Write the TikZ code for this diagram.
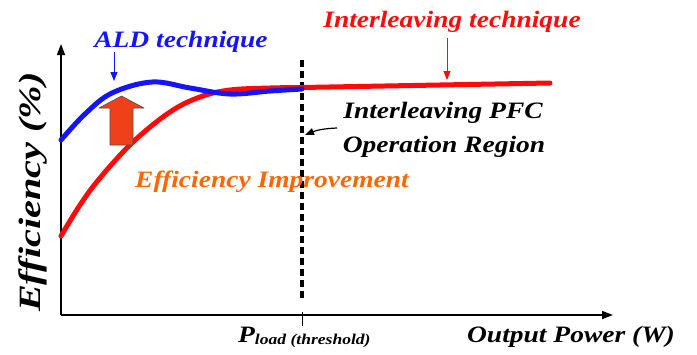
\documentclass[tikz,border=0pt]{standalone}
\usepackage{fontspec}
\setmainfont{Liberation Serif}
\usetikzlibrary{arrows.meta}
\definecolor{cblue}{RGB}{20,20,255}
\definecolor{cred}{RGB}{255,10,10}
\definecolor{corange}{RGB}{255,102,0}
\definecolor{cfill}{RGB}{240,64,26}
\newcommand{\wide}[1]{\scalebox{1.17}[1]{#1}}
\tikzset{
  lbl/.style={font=\bfseries\itshape\fontsize{23.5}{25}\selectfont, inner sep=0pt, anchor=base},
  axis/.style={line width=1.6pt, -{Triangle[length=11pt,width=8pt]}},
  curve/.style={line width=5pt, line cap=round},
  thinarrow/.style={line width=0.8pt, -{Triangle[length=9pt,width=7pt]}}
}
\begin{document}
\begin{tikzpicture}[x=1pt,y=-1pt]
\useasboundingbox (0,0) rectangle (697,354);
% axes
\coordinate (O) at (61,315);
\coordinate (Ytop) at (61,44);
\coordinate (Xend) at (613,315);
\draw[axis] (O) -- (Ytop);
\draw[axis] (O) -- (Xend);
% threshold dashed line and tick
\coordinate (Dtop) at (302,60);
\coordinate (Dbot) at (302,300);
\coordinate (Tk) at (302,326);
\draw[line width=4.5pt, dash pattern=on 7pt off 4pt] (Dtop) -- (Dbot);
\draw[line width=0.8pt] (302,312) -- (Tk);
% red curve
\draw[curve, cred] plot[smooth, tension=0.6] coordinates {(61,236) (80,205) (100,178) (133,142) (170,112) (200,97) (230,90) (270,88) (302,87.5)} -- (550,83);
% blue curve
\draw[curve, cblue] plot[smooth, tension=0.6] coordinates {(61,140) (85,114) (112,93) (152,82) (190,88) (230,94) (270,91) (302,89)};
% block arrow (efficiency improvement)
\draw[draw=black!70, line width=0.6pt, fill=cfill, line join=round]
  (110,145) -- (110,108) -- (99,108) -- (121.5,96) -- (144,108) -- (133,108) -- (133,145) -- cycle;
% labels
\node[lbl, cblue] (ald) at (181,47) {\wide{ALD technique}};
\node[lbl, cred] (ilv) at (452,27) {\wide{Interleaving technique}};
\node[lbl, black] (pfc1) at (443,118) {\wide{Interleaving PFC}};
\node[lbl, black] (pfc2) at (444,152) {\wide{Operation Region}};
\node[lbl, corange] (imp) at (272,187) {\wide{Efficiency Improvement}};
\node[lbl, black, rotate=90, font=\bfseries\itshape\fontsize{31}{32}\selectfont] (eff) at (40,192) {\scalebox{1.3}[1]{Efficiency (\%)}};
\node[lbl, black] (out) at (571,342) {\wide{Output Power (W)}};
\node[lbl, black, anchor=base west] (pl) at (238,342) {\wide{\fontsize{23.5}{23}\selectfont P\fontsize{15}{15}\selectfont\raisebox{-2.5pt}{load (threshold)}}};
% pointer arrows
\coordinate (aldtip) at (114,81);
\coordinate (aldtail) at (114,52);
\coordinate (ilvtip) at (447,80);
\coordinate (ilvtail) at (447,38);
\coordinate (pfctip) at (305,135);
\coordinate (pfctail) at (337,128);
\draw[thinarrow, cblue] (aldtail) -- (aldtip);
\draw[thinarrow, cred] (ilvtail) -- (ilvtip);
\draw[thinarrow, black, line width=1.2pt] (pfctail) to[bend right=10] (pfctip);
\end{tikzpicture}
\end{document}
